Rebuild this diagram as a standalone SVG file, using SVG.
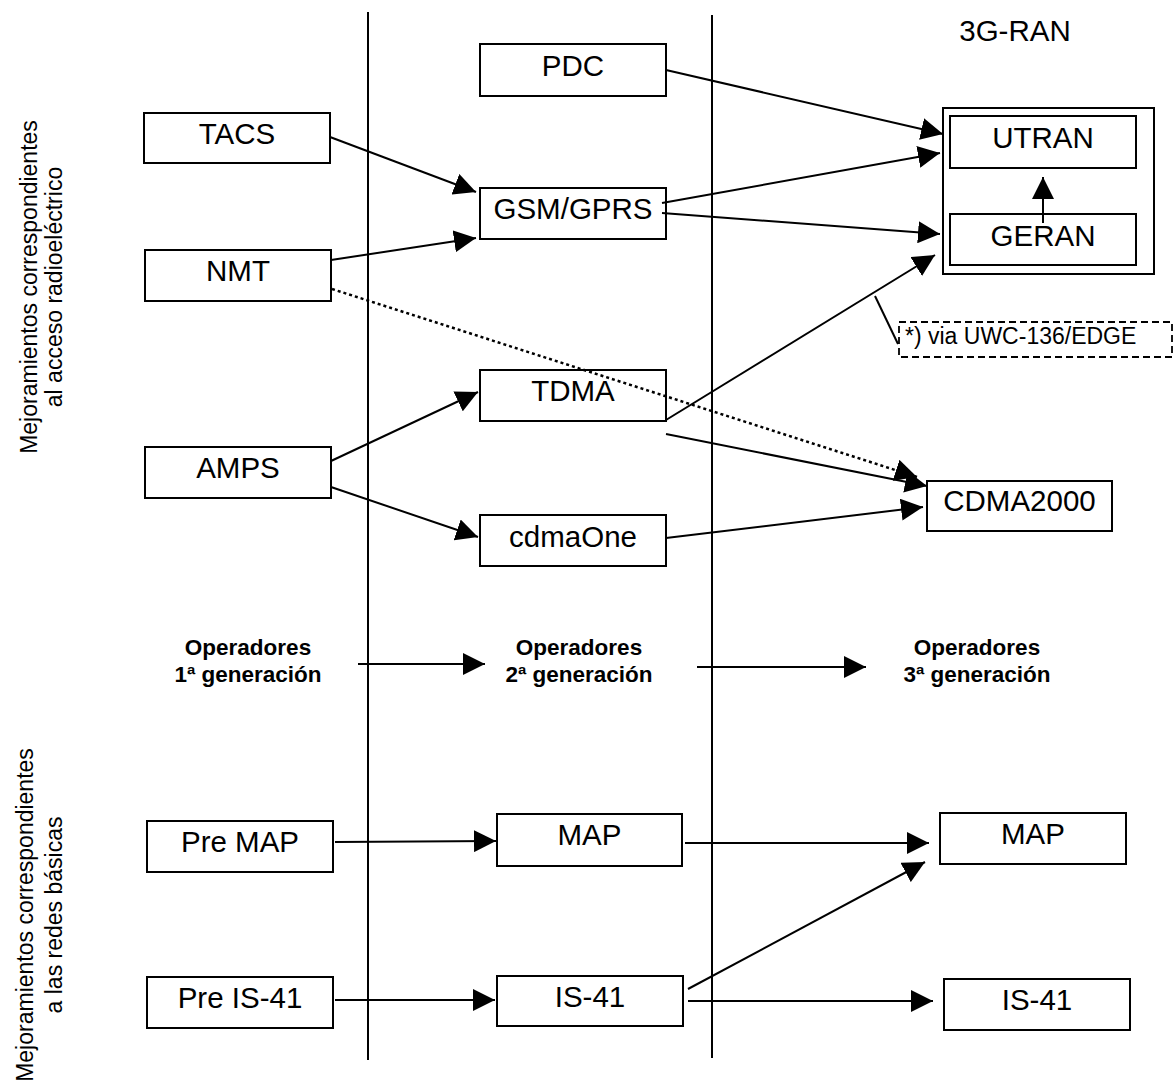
<svg xmlns="http://www.w3.org/2000/svg" width="1176" height="1088" viewBox="0 0 1176 1088">
  <style>
    .box { fill: #fff; stroke: #000; stroke-width: 2; }
    .lbl { font-family: "Liberation Sans", Arial, sans-serif; font-size: 29.5px; text-anchor: middle; fill: #000; }
    .side { font-family: "Liberation Sans", Arial, sans-serif; font-size: 23px; text-anchor: middle; fill: #000; }
    .gen { font-family: "Liberation Sans", Arial, sans-serif; font-size: 22.5px; font-weight: bold; text-anchor: middle; fill: #000; }
    .note { font-family: "Liberation Sans", Arial, sans-serif; font-size: 23px; fill: #000; }
    .edge { stroke: #000; stroke-width: 2; fill: none; marker-end: url(#arrow); }
    .dots { stroke: #000; stroke-width: 2.5; fill: none; stroke-dasharray: 3 3; marker-end: url(#arrow); }
    .rule { stroke: #000; stroke-width: 2; fill: none; }
  </style>
  <defs>
    <marker id="arrow" markerUnits="userSpaceOnUse" markerWidth="22" markerHeight="22" refX="22" refY="11" orient="auto">
      <path d="M0,0 L22,11 L0,22 Z" fill="#000"/>
    </marker>
  </defs>
  <rect width="1176" height="1088" fill="#fff"/>

  <!-- generation separators -->
  <g id="separators">
    <line class="rule" x1="368" y1="12" x2="368" y2="1060"/>
    <line class="rule" x1="712" y1="15" x2="712" y2="1058"/>
  </g>

  <!-- side captions -->
  <g id="caption-radio">
    <text class="side" transform="translate(37,287) rotate(-90)">Mejoramientos correspondientes</text>
    <text class="side" transform="translate(62,287) rotate(-90)">al acceso radioeléctrico</text>
  </g>
  <g id="caption-core">
    <text class="side" transform="translate(33,915) rotate(-90)">Mejoramientos correspondientes</text>
    <text class="side" transform="translate(62,915) rotate(-90)">a las redes básicas</text>
  </g>

  <text id="title-3g-ran" class="lbl" x="1015" y="41">3G-RAN</text>

  <!-- 3G radio access group -->
  <g id="ran-3g">
    <rect class="box" x="943" y="108" width="211" height="166"/>
  </g>

  <g id="tacs"><rect class="box" x="144" y="113" width="186" height="50"/><text class="lbl" x="237" y="144">TACS</text></g>
  <g id="nmt"><rect class="box" x="145" y="250" width="186" height="51"/><text class="lbl" x="238" y="281">NMT</text></g>
  <g id="amps"><rect class="box" x="145" y="447" width="186" height="51"/><text class="lbl" x="238" y="478">AMPS</text></g>
  <g id="pdc"><rect class="box" x="480" y="44" width="186" height="52"/><text class="lbl" x="573" y="76">PDC</text></g>
  <g id="gsm-gprs"><rect class="box" x="480" y="188" width="186" height="51"/><text class="lbl" x="573" y="219">GSM/GPRS</text></g>
  <g id="tdma"><rect class="box" x="480" y="370" width="186" height="51"/><text class="lbl" x="573" y="401">TDMA</text></g>
  <g id="cdmaone"><rect class="box" x="480" y="515" width="186" height="51"/><text class="lbl" x="573" y="547">cdmaOne</text></g>
  <g id="utran"><rect class="box" x="950" y="116" width="186" height="52"/><text class="lbl" x="1043" y="148">UTRAN</text></g>
  <g id="geran"><rect class="box" x="950" y="214" width="186" height="51"/><text class="lbl" x="1043" y="246">GERAN</text></g>
  <g id="cdma2000"><rect class="box" x="927" y="481" width="185" height="50"/><text class="lbl" x="1019.5" y="511">CDMA2000</text></g>

  <g id="pre-map"><rect class="box" x="147" y="821" width="186" height="51"/><text class="lbl" x="240" y="852">Pre MAP</text></g>
  <g id="map-2g"><rect class="box" x="497" y="814" width="185" height="52"/><text class="lbl" x="589.5" y="845">MAP</text></g>
  <g id="map-3g"><rect class="box" x="940" y="813" width="186" height="51"/><text class="lbl" x="1033" y="844">MAP</text></g>
  <g id="pre-is41"><rect class="box" x="147" y="977" width="186" height="51"/><text class="lbl" x="240" y="1008">Pre IS-41</text></g>
  <g id="is41-2g"><rect class="box" x="497" y="976" width="186" height="50"/><text class="lbl" x="590" y="1007">IS-41</text></g>
  <g id="is41-3g"><rect class="box" x="944" y="979" width="186" height="51"/><text class="lbl" x="1037" y="1010">IS-41</text></g>

  <!-- generation labels -->
  <g id="gen-1">
    <text class="gen" x="248" y="655">Operadores</text>
    <text class="gen" x="248" y="682">1ª generación</text>
  </g>
  <g id="gen-2">
    <text class="gen" x="579" y="655">Operadores</text>
    <text class="gen" x="579" y="682">2ª generación</text>
  </g>
  <g id="gen-3">
    <text class="gen" x="977" y="655">Operadores</text>
    <text class="gen" x="977" y="682">3ª generación</text>
  </g>

  <!-- note on the TDMA path -->
  <g id="note-edge">
    <rect x="899" y="322" width="273" height="35" fill="none" stroke="#000" stroke-width="1.8" stroke-dasharray="7 4"/>
    <text class="note" x="905" y="344">*) via UWC-136/EDGE</text>
    <line x1="875" y1="296" x2="898" y2="344" stroke="#000" stroke-width="2"/>
  </g>

  <!-- connectors -->
  <g id="connectors">
    <line class="edge" x1="330" y1="137" x2="476" y2="192"/>
    <line class="edge" x1="331" y1="260" x2="476" y2="238"/>
    <line class="dots" x1="332" y1="289" x2="917" y2="477"/>
    <line class="edge" x1="331" y1="461" x2="478" y2="392"/>
    <line class="edge" x1="331" y1="487" x2="478" y2="537"/>
    <line class="edge" x1="666" y1="70" x2="943" y2="134"/>
    <line class="edge" x1="662" y1="203" x2="940" y2="153"/>
    <line class="edge" x1="662" y1="213" x2="940" y2="234"/>
    <line class="edge" x1="666" y1="420" x2="935" y2="255"/>
    <line class="edge" x1="666" y1="434" x2="927" y2="486"/>
    <line class="edge" x1="666" y1="538" x2="923" y2="507"/>
    <line class="edge" x1="1043" y1="223" x2="1043" y2="177"/>
    <line class="edge" x1="358" y1="664" x2="485" y2="664"/>
    <line class="edge" x1="697" y1="667" x2="866" y2="667"/>
    <line class="edge" x1="335" y1="842" x2="496" y2="841"/>
    <line class="edge" x1="685" y1="843" x2="929" y2="843"/>
    <line class="edge" x1="688" y1="989" x2="925" y2="862"/>
    <line class="edge" x1="335" y1="1000" x2="495" y2="1000"/>
    <line class="edge" x1="688" y1="1001" x2="933" y2="1001"/>
  </g>
</svg>
